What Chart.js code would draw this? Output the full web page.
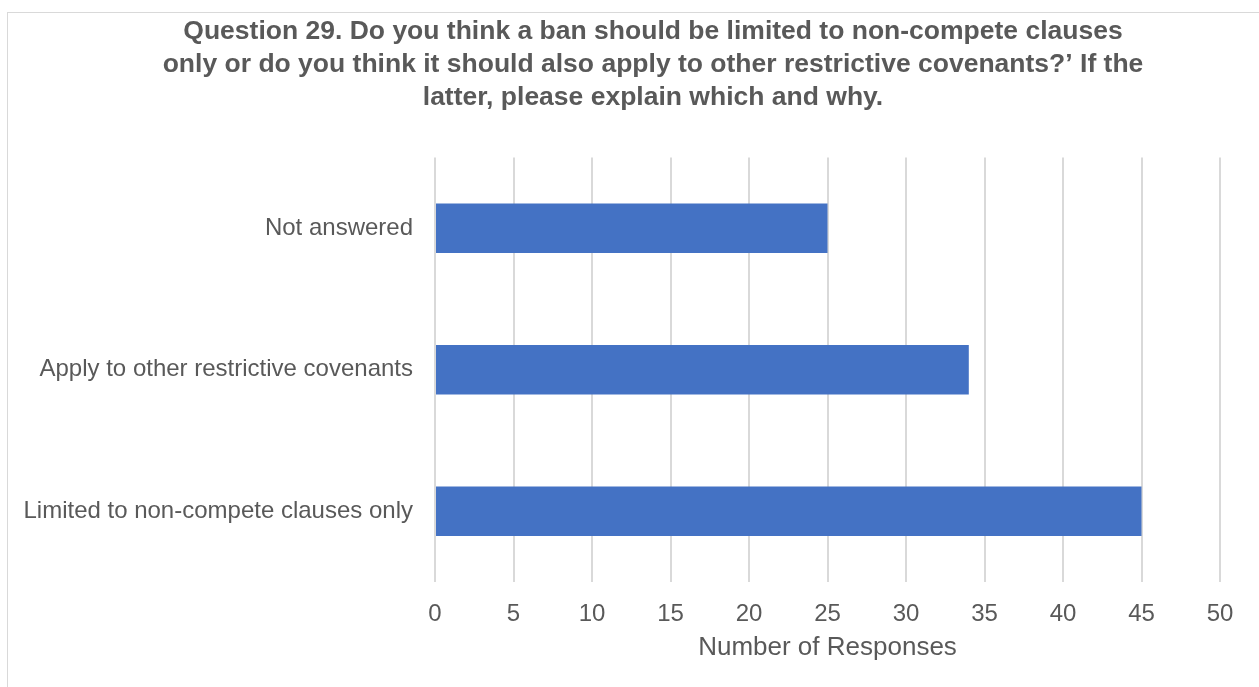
<!DOCTYPE html>
<html lang="en">
<head>
  <meta charset="UTF-8">
  <title>Question 29</title>
  <script src="https://cdn.jsdelivr.net/npm/chart.js"></script>
  <style>
    html, body { margin: 0; padding: 0; background: #fff; overflow: hidden; }
    .frame {
      position: absolute;
      left: 7px;
      top: 12px;
      width: 1300px;
      height: 700px;
      border: 1px solid #d9d9d9;
    }
    .chart-box {
      position: absolute;
      left: 0;
      top: 0;
      width: 1290px;
      height: 680px;
    }
  </style>
</head>
<body>
  <div class="frame">
    <div class="chart-box"><canvas id="q29"></canvas></div>
  </div>
  <script>
    const categories = [
      "Not answered",
      "Apply to other restrictive covenants",
      "Limited to non-compete clauses only"
    ];
    const responses = [25, 34, 45];
    const titleLines = [
      "Question 29. Do you think a ban should be limited to non-compete clauses",
      "only or do you think it should also apply to other restrictive covenants?\u2019 If the",
      "latter, please explain which and why."
    ];

    const textGrey = "#595959";
    const font = "'Liberation Sans', Arial, sans-serif";

    // the original title is centred a bit right of the canvas centre
    const shiftTitle = {
      id: "shiftTitle",
      afterLayout(chart) {
        if (chart.titleBlock) chart.titleBlock.left += 78;
      }
    };

    new Chart(document.getElementById("q29"), {
      type: "bar",
      data: {
        labels: categories,
        datasets: [{
          label: "Number of Responses",
          data: responses,
          backgroundColor: "#4472C4",
          categoryPercentage: 1,
          barPercentage: 0.35
        }]
      },
      options: {
        indexAxis: "y",
        responsive: true,
        maintainAspectRatio: false,
        animation: false,
        layout: { padding: { top: 0, right: 78, bottom: 30, left: 0 } },
        plugins: {
          legend: { display: false },
          tooltip: { enabled: false },
          title: {
            display: true,
            text: titleLines,
            color: textGrey,
            font: { family: font, size: 26.5, weight: "bold", lineHeight: 1.25 },
            padding: { top: 2, bottom: 43 }
          }
        },
        scales: {
          x: {
            min: 0,
            max: 50,
            ticks: { stepSize: 5, color: textGrey, padding: 18, font: { family: font, size: 24 } },
            grid: { color: "#d9d9d9", lineWidth: 2, drawTicks: false },
            border: { display: false },
            title: {
              display: true,
              text: "Number of Responses",
              color: textGrey,
              font: { family: font, size: 26 },
              padding: { top: 8, bottom: 0 }
            },
            afterFit: function(axis) { axis.height = 81; }
          },
          y: {
            ticks: { color: textGrey, padding: 14, font: { family: font, size: 24 } },
            grid: { display: false },
            border: { display: false },
            afterFit: function(axis) { axis.width = 427; }
          }
        }
      },
      plugins: [shiftTitle]
    });
  </script>
</body>
</html>
